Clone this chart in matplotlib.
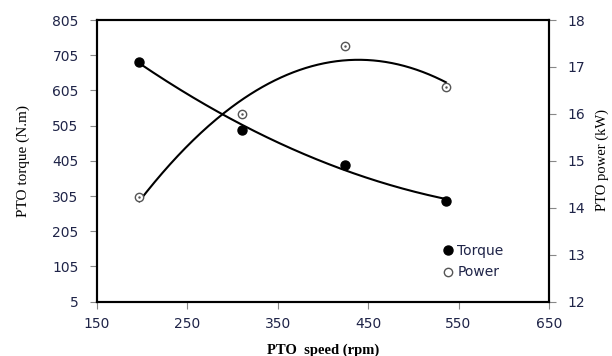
import numpy as np
import matplotlib
matplotlib.use('Agg')
import matplotlib.pyplot as plt

# data
speed = [197, 311, 424, 536]          # PTO speed (rpm)
torque = [687, 493, 393, 292]         # PTO torque (N.m)
power = [14.24, 16.0, 17.45, 16.57]   # PTO power (kW)

xticks = [150, 250, 350, 450, 550, 650]
tticks = [5, 105, 205, 305, 405, 505, 605, 705, 805]
pticks = [12, 13, 14, 15, 16, 17, 18]

navy = '#1f2448'

fig = plt.figure(figsize=(6.12, 3.56), dpi=100)
ax = fig.add_axes([0.158, 0.1525, 0.739, 0.7913])
ax2 = ax.twinx()

# 2nd order trendlines like excel
xs = np.linspace(min(speed), max(speed), 200)
ct = np.polyfit(speed, torque, 2)
cp = np.polyfit(speed, power, 2)
ax.plot(xs, np.polyval(ct, xs), color='black', lw=1.5, zorder=2)
ax2.plot(xs, np.polyval(cp, xs), color='black', lw=1.5, zorder=2)

l1, = ax.plot(speed, torque, 'o', color='black', ms=6.5, zorder=3, label='Torque')
l2, = ax2.plot(speed, power, 'o', mfc='white', mec='#555555', mew=1, ms=6, zorder=3, label='Power')
ax2.plot(speed, power, '.', color='#555555', ms=1.5, zorder=4)

ax.set_xlim(150, 650)
ax.set_ylim(5, 805)
ax2.set_ylim(12, 18)
ax.set_xticks(xticks)
ax.set_yticks(tticks)
ax2.set_yticks(pticks)

for a in (ax, ax2):
    a.tick_params(direction='out', length=5, width=0.8, color='#888888',
                  labelsize=10, labelcolor=navy, pad=8)
    for s in a.spines.values():
        s.set_linewidth(1.5)
        s.set_color('black')
ax.tick_params(axis='x', pad=6)

ax.set_xlabel('PTO  speed (rpm)', family='Liberation Serif', fontsize=10.5,
              fontweight='bold', labelpad=9)
ax.set_ylabel('PTO torque (N.m)', family='Liberation Serif', fontsize=11, labelpad=16)
fig.text(0.984, 0.55, 'PTO power (kW)', family='Liberation Serif', fontsize=10.5,
         rotation=90, ha='center', va='center')

leg = ax.legend([l1, l2], ['Torque', 'Power'], loc='upper left',
                bbox_to_anchor=(0.73, 0.25), frameon=False, fontsize=10,
                handletextpad=0.1, labelspacing=0.55, handlelength=1.2)
for t in leg.get_texts():
    t.set_color(navy)

fig.savefig('out.png', dpi=100)
